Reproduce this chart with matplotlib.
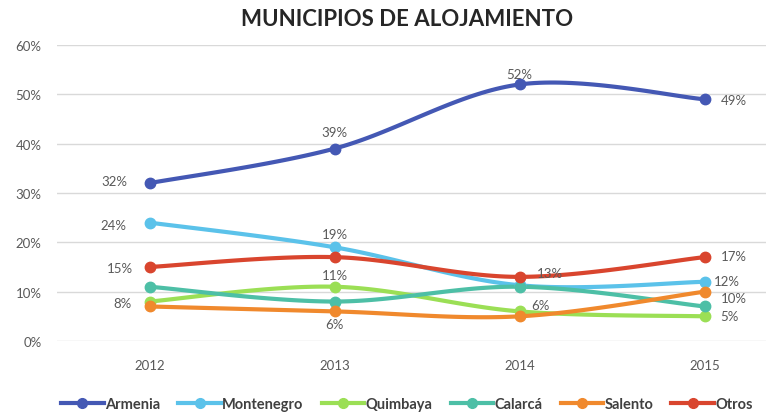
import numpy as np
import matplotlib
matplotlib.use("Agg")
import matplotlib.pyplot as plt
from matplotlib.lines import Line2D

years = ["2012", "2013", "2014", "2015"]
series_names = ["Armenia", "Montenegro", "Quimbaya", "Calarcá", "Salento", "Otros"]
armenia = [0.32, 0.39, 0.52, 0.49]
montenegro = [0.24, 0.19, 0.113, 0.12]
quimbaya = [0.08, 0.11, 0.06, 0.05]
calarca = [0.11, 0.08, 0.11, 0.07]
salento = [0.07, 0.06, 0.05, 0.10]
otros = [0.15, 0.17, 0.13, 0.17]
colors = ["#4458B4", "#5BC2EA", "#9BDF55", "#4DBFA6", "#F0892D", "#D9452E"]
all_values = [armenia, montenegro, quimbaya, calarca, salento, otros]

# label specs: (series index, point index, text, dx px, dy px, ha)
labels = [
    (0, 0, "32%", -22, 2, "right"), (0, 1, "39%", 0, 17, "center"),
    (0, 2, "52%", 0, 10, "center"), (0, 3, "49%", 16, -1, "left"),
    (1, 0, "24%", -23, -2, "right"), (1, 1, "19%", 0, 13, "center"),
    (1, 3, "12%", 9, 1, "left"),
    (2, 0, "8%", -18, -1, "right"), (2, 1, "11%", 0, 12, "center"),
    (2, 2, "6%", 12, 6, "left"), (2, 3, "5%", 16, 0, "left"),
    (4, 1, "6%", 0, -13, "center"), (4, 3, "10%", 16, -6, "left"),
    (5, 0, "15%", -17, -1, "right"), (5, 2, "13%", 17, 4, "left"),
    (5, 3, "17%", 16, 1, "left"),
]

plt.rcParams['font.family'] = ['Lato', 'DejaVu Sans']

W, H = 766, 414
fig = plt.figure(figsize=(W / 100, H / 100), dpi=100)
ax = fig.add_axes([57 / W, 72 / H, 740 / W, 296 / H])

x = np.arange(len(years)) + 0.5


def smooth(xs, ys, n=40):
    xs = np.asarray(xs, float); ys = np.asarray(ys, float)
    P = np.column_stack([xs, ys])
    out = [P[0]]
    for i in range(len(P) - 1):
        p0 = P[i - 1] if i > 0 else P[i]
        p1 = P[i]; p2 = P[i + 1]
        p3 = P[i + 2] if i + 2 < len(P) else P[i + 1]
        c1 = p1 + (p2 - p0) / 6.0
        c2 = p2 - (p3 - p1) / 6.0
        t = np.linspace(0, 1, n)[1:, None]
        B = ((1 - t) ** 3) * p1 + 3 * ((1 - t) ** 2) * t * c1 + 3 * (1 - t) * t ** 2 * c2 + t ** 3 * p2
        out.extend(B)
    out = np.array(out)
    return out[:, 0], out[:, 1]


for vals, col in zip(all_values, colors):
    sx, sy = smooth(x, vals)
    ax.plot(sx, sy, color=col, lw=3.0, solid_capstyle='round', zorder=3)
    ax.plot(x, vals, 'o', color=col, ms=7.5, zorder=4)

for si, pi, txt, dx, dy, ha in labels:
    ax.annotate(txt, (x[pi], all_values[si][pi]), xytext=(dx * 0.72, dy * 0.72),
                textcoords='offset points', ha=ha, va='center', fontsize=9.5,
                color='#595959', zorder=5)

ax.set_xlim(0, 4)
ax.set_ylim(0, 0.6)
ax.set_yticks(np.arange(0, 0.61, 0.1))
ax.set_yticklabels([f"{int(round(v * 100))}%" for v in np.arange(0, 0.61, 0.1)])
ax.set_xticks(x)
ax.set_xticklabels(years)
ax.tick_params(axis='both', length=0, labelsize=9.5, labelcolor='#595959')
ax.tick_params(axis='y', pad=11)
ax.tick_params(axis='x', pad=13)
ax.grid(axis='y', color='#D9D9D9', lw=1)
ax.set_axisbelow(True)
for s in ax.spines.values():
    s.set_visible(False)

fig.text(407 / W, 1 - 20 / H, "MUNICIPIOS DE ALOJAMIENTO", ha='center', va='center',
         fontsize=16, fontweight='bold', color='#262626')

handles = [Line2D([0], [0], color=c, lw=3, marker='o', ms=7) for c in colors]
leg = fig.legend(handles, series_names, loc='center', bbox_to_anchor=(407 / W, 9 / H),
                 ncol=6, frameon=False, handlelength=2.9, handletextpad=0.1,
                 columnspacing=1.25, prop={'size': 10.5, 'weight': 'bold'})
for t in leg.get_texts():
    t.set_color('#404040')

fig.savefig("out.png", dpi=100)
